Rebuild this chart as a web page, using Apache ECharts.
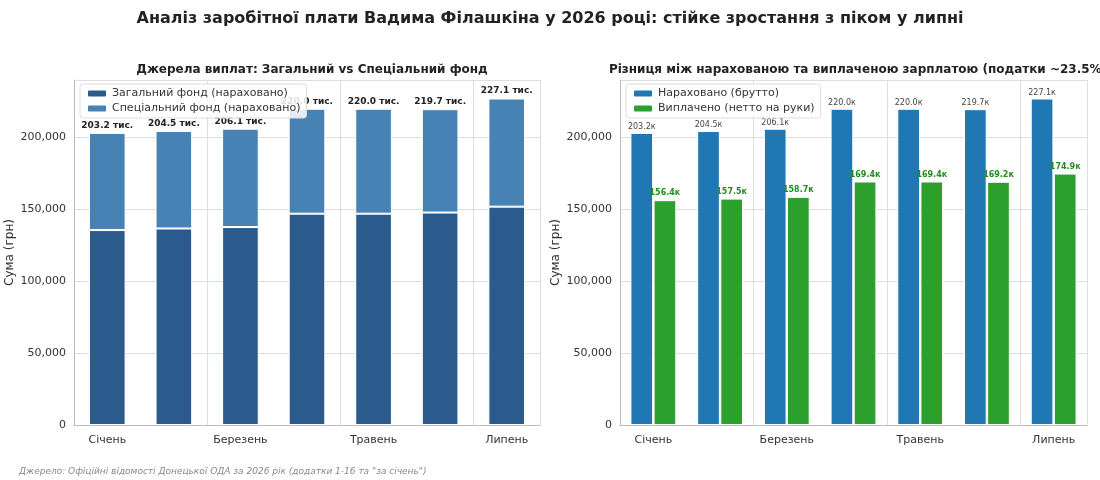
<html>
<head>
<script src="https://cdn.jsdelivr.net/npm/echarts@6/dist/echarts.min.js"></script>
</head>
<body style="margin:0;background:#fff">
<div id="main" style="width:1100px;height:480px;"></div>
<script>
var months = ['Січень', 'Лютий', 'Березень', 'Квітень', 'Травень', 'Червень', 'Липень'];
var totalAccrued = [203.2, 204.5, 206.1, 220.0, 220.0, 219.7, 227.1];
var generalFund = [135.6, 136.7, 137.7, 147.0, 147.0, 147.8, 151.9];
var netPaid = [156.4, 157.5, 158.7, 169.4, 169.4, 169.2, 174.9];

var specialFund = [];
for (var i = 0; i < months.length; i++) {
    specialFund.push(+(totalAccrued[i] - generalFund[i]).toFixed(1));
}
function k(arr) { return arr.map(function (v) { return Math.round(v * 1000); }); }

var font = 'DejaVu Sans';
var myChart = echarts.init(document.getElementById('main'));

function yAxis(idx) {
    return {
        gridIndex: idx, type: 'value', min: 0, max: 240000, interval: 50000,
        name: 'Сума (грн)', nameLocation: 'middle', nameGap: 58, nameRotate: 90,
        nameTextStyle: { color: '#333', fontSize: 12, fontFamily: font },
        axisLine: { show: true, lineStyle: { color: '#bbb' } },
        axisTick: { show: false },
        axisLabel: { showMaxLabel: false, color: '#333', fontSize: 11, fontFamily: font,
            formatter: function (v) { return v > 200000 ? '' : v.toLocaleString('en-US'); } },
        splitLine: { lineStyle: { color: '#ddd' } }
    };
}
function xAxis(idx) {
    return {
        gridIndex: idx, type: 'category', data: months,
        axisLine: { lineStyle: { color: '#bbb' } }, axisTick: { show: false },
        axisLabel: { color: '#333', fontSize: 11, fontFamily: font, margin: 10 },
        splitLine: { show: true, lineStyle: { color: '#ddd' } }
    };
}

var option = {
    animation: false,
    textStyle: { fontFamily: font },
    title: [
        { text: 'Аналіз заробітної плати Вадима Філашкіна у 2026 році: стійке зростання з піком у липні',
          left: 'center', top: 6, textStyle: { fontSize: 16, fontWeight: 'bold', color: '#222', fontFamily: font } },
        { text: 'Джерела виплат: Загальний vs Спеціальний фонд', left: 307, textAlign: 'center', top: 59,
          textStyle: { fontSize: 12, fontWeight: 'bold', color: '#222', fontFamily: font } },
        { text: 'Різниця між нарахованою та виплаченою зарплатою (податки ~23.5%)', left: 853, textAlign: 'center', top: 59,
          textStyle: { fontSize: 12, fontWeight: 'bold', color: '#222', fontFamily: font } },
        { text: 'Джерело: Офіційні відомості Донецької ОДА за 2026 рік (додатки 1-16 та "за січень")', left: 14, top: 462,
          textStyle: { fontSize: 9, fontStyle: 'italic', fontWeight: 'normal', color: '#888', fontFamily: font } }
    ],
    legend: [
        { data: ['Загальний фонд (нараховано)', 'Спеціальний фонд (нараховано)'], left: 80, top: 84, orient: 'vertical',
          itemWidth: 20, itemHeight: 8, itemGap: 4, backgroundColor: 'rgba(255,255,255,0.85)', borderColor: '#ddd', borderWidth: 1,
          padding: [4, 6], borderRadius: 3, textStyle: { fontSize: 11, color: '#333' } },
        { data: ['Нараховано (брутто)', 'Виплачено (нетто на руки)'], left: 626, top: 84, orient: 'vertical',
          itemWidth: 20, itemHeight: 8, itemGap: 4, backgroundColor: 'rgba(255,255,255,0.85)', borderColor: '#ddd', borderWidth: 1,
          padding: [4, 6], borderRadius: 3, textStyle: { fontSize: 11, color: '#333' } }
    ],
    grid: [
        { left: 74, width: 466, top: 80, height: 345 },
        { left: 620, width: 467, top: 80, height: 345 }
    ],
    xAxis: [xAxis(0), xAxis(1)],
    yAxis: [yAxis(0), yAxis(1)],
    series: [
        { name: 'Загальний фонд (нараховано)', type: 'bar', stack: 'a', xAxisIndex: 0, yAxisIndex: 0,
          data: k(generalFund), barWidth: '55%', itemStyle: { color: '#2a5b8c', borderColor: '#fff', borderWidth: 1 } },
        { name: 'Спеціальний фонд (нараховано)', type: 'bar', stack: 'a', xAxisIndex: 0, yAxisIndex: 0,
          data: k(specialFund), itemStyle: { color: '#4682b4', borderColor: '#fff', borderWidth: 1 },
          label: { show: true, position: 'top', fontSize: 9, fontWeight: 'bold', color: '#222', distance: 3,
            formatter: function (p) { return totalAccrued[p.dataIndex].toFixed(1) + ' тис.'; } } },
        { name: 'Нараховано (брутто)', type: 'bar', xAxisIndex: 1, yAxisIndex: 1, data: k(totalAccrued),
          barWidth: '34%', barGap: '2%', itemStyle: { color: '#1f77b4', borderColor: '#fff', borderWidth: 1 },
          label: { show: true, position: 'top', fontSize: 8, color: '#444', distance: 2,
            formatter: function (p) { return totalAccrued[p.dataIndex].toFixed(1) + 'к'; } } },
        { name: 'Виплачено (нетто на руки)', type: 'bar', xAxisIndex: 1, yAxisIndex: 1, data: k(netPaid),
          barWidth: '34%', itemStyle: { color: '#2ca02c', borderColor: '#fff', borderWidth: 1 },
          label: { show: true, position: 'top', fontSize: 8, fontWeight: 'bold', color: '#228b22', distance: 3,
            formatter: function (p) { return netPaid[p.dataIndex].toFixed(1) + 'к'; } } }
    ]
};
myChart.setOption(option);
</script>
</body>
</html>
